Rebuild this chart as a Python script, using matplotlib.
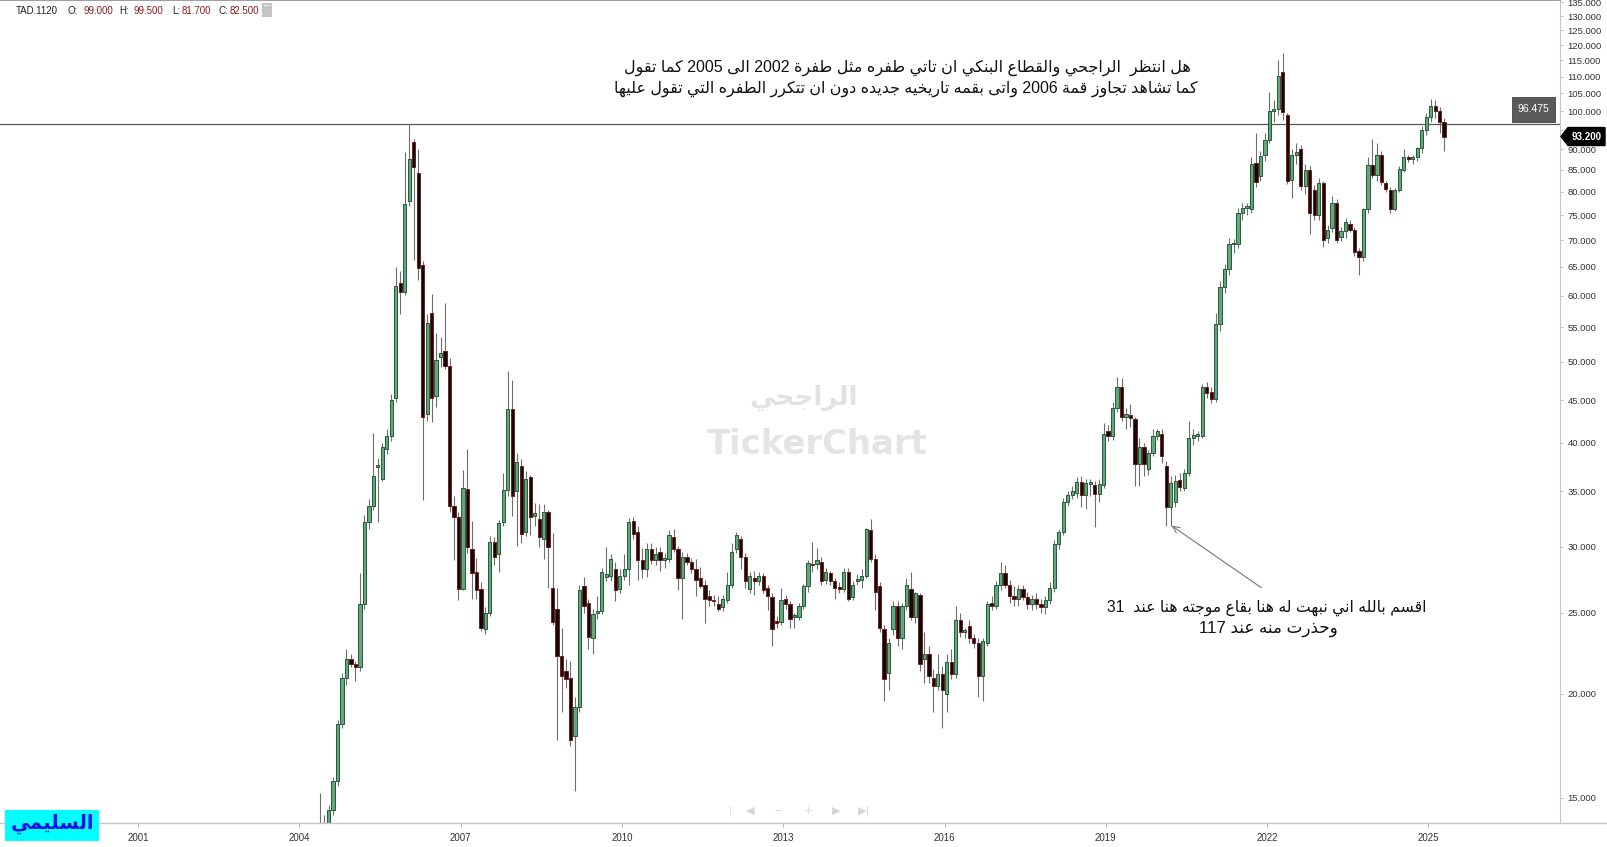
import numpy as np
import pandas as pd
import matplotlib
matplotlib.use("Agg")
import matplotlib.pyplot as plt
import matplotlib.patches as patches
from matplotlib.lines import Line2D
from matplotlib.ticker import FixedLocator, FixedFormatter, NullLocator

# ---------------- data: monthly candles of 1120 (Al Rajhi), May 2004 .. Apr 2025
start_month = "2004-05"
opens = [
    13.0, 13.6, 14.0, 14.5, 15.7, 18.4, 20.9, 22.0,
    21.7, 21.5, 25.6, 32.1, 33.6, 37.4, 36.2, 39.3, 40.7, 45.3, 62.1, 60.7,
    77.9, 91.8, 84.3, 65.3, 43.3, 57.2, 45.5, 50.7, 51.6, 49.5, 33.6, 32.6,
    26.7, 35.2, 29.8, 28.0, 26.7, 23.9, 25.0, 30.4, 29.4, 32.1, 35.1, 43.9,
    35.0, 37.5, 31.3, 36.4, 32.7, 32.4, 30.7, 33.0, 26.8, 25.3, 22.2, 21.3,
    20.9, 17.8, 19.3, 26.9, 25.7, 23.3, 25.0, 25.1, 27.6, 27.7, 28.2, 26.7,
    27.7, 28.2, 32.2, 31.3, 28.9, 28.2, 29.8, 28.9, 29.6, 28.9, 29.0, 30.8,
    29.8, 27.5, 29.2, 28.8, 28.2, 27.5, 27.0, 26.2, 25.9, 25.6, 25.4, 25.9,
    27.0, 29.8, 30.7, 29.2, 26.7, 27.5, 27.3, 27.7, 26.8, 26.1, 24.4, 24.4,
    26.0, 25.6, 24.7, 24.7, 25.5, 26.9, 28.6, 28.6, 28.8, 27.4, 27.9, 27.3,
    26.8, 26.7, 28.0, 26.1, 27.3, 27.4, 27.7, 31.4, 29.0, 26.9, 23.9, 21.2,
    23.9, 25.5, 23.3, 25.5, 26.7, 24.7, 26.3, 22.0, 22.3, 20.9, 20.4, 21.1,
    20.0, 21.8, 21.1, 24.5, 23.7, 24.1, 23.3, 23.0, 21.0, 23.0, 25.7, 25.5,
    27.0, 27.9, 27.0, 26.2, 26.0, 26.7, 26.1, 25.6, 26.0, 25.6, 25.4, 25.9,
    26.8, 30.2, 31.3, 34.0, 34.6, 34.8, 35.9, 34.6, 35.7, 35.6, 34.7, 35.6,
    41.3, 40.7, 44.0, 46.7, 43.0, 43.2, 42.7, 37.7, 39.5, 37.2, 38.9, 40.7,
    41.0, 37.5, 33.5, 34.0, 36.1, 35.3, 36.8, 40.5, 40.7, 40.8, 46.6, 46.0,
    45.1, 55.6, 61.5, 64.6, 69.2, 69.2, 75.4, 76.5, 76.2, 86.6, 83.6, 88.6,
    92.4, 100.0, 100.6, 111.5, 99.0, 82.6, 88.6, 90.0, 81.3, 85.0, 80.3, 75.1,
    81.9, 70.4, 72.3, 77.5, 70.7, 71.7, 73.1, 72.0, 67.9, 66.8, 76.2, 86.1,
    83.7, 88.6, 81.9, 80.3, 76.3, 80.4, 85.0, 88.0, 87.5, 88.0, 90.2, 95.0,
    98.5, 101.5, 100.0, 97.0,
]
highs = [
    15.2, 14.3, 14.7, 15.9, 18.6, 21.2, 22.6, 22.3,
    21.9, 27.9, 32.8, 34.2, 41.1, 38.3, 40.0, 41.5, 45.8, 65.0, 64.3, 89.2,
    96.5, 92.5, 90.0, 66.0, 57.1, 60.3, 54.1, 53.5, 58.8, 50.5, 34.5, 33.0,
    37.1, 39.3, 32.2, 29.1, 27.2, 25.4, 30.9, 30.8, 32.3, 36.8, 48.7, 47.6,
    38.9, 38.2, 37.0, 36.6, 33.9, 33.8, 33.8, 33.2, 31.2, 26.8, 24.0, 22.0,
    21.9, 19.8, 27.0, 27.6, 26.0, 25.3, 26.2, 28.3, 30.0, 29.4, 28.8, 28.2,
    29.4, 32.5, 32.6, 31.8, 29.9, 30.3, 30.3, 30.0, 30.0, 29.5, 31.4, 31.5,
    30.1, 29.6, 29.5, 29.1, 29.0, 28.4, 27.4, 26.6, 26.3, 26.2, 26.3, 28.0,
    30.3, 31.3, 30.9, 29.5, 28.0, 28.1, 28.0, 27.9, 27.0, 26.4, 24.8, 26.8,
    26.3, 25.8, 25.0, 25.7, 27.1, 28.9, 30.4, 29.9, 29.2, 28.3, 28.1, 27.5,
    27.2, 28.3, 28.3, 27.3, 27.8, 28.2, 31.6, 32.4, 29.4, 27.2, 24.2, 23.3,
    25.8, 25.8, 25.7, 27.5, 28.0, 26.5, 26.4, 23.7, 22.8, 21.4, 22.3, 21.6,
    22.3, 22.6, 25.5, 25.0, 24.0, 24.5, 23.6, 23.3, 23.3, 25.8, 26.2, 27.3,
    28.8, 28.5, 27.4, 26.9, 27.0, 27.0, 26.5, 26.3, 26.4, 26.0, 26.2, 27.2,
    30.6, 31.5, 34.3, 35.0, 35.5, 36.4, 36.5, 36.2, 36.2, 36.0, 36.2, 42.2,
    42.0, 44.8, 48.0, 47.8, 44.0, 44.5, 43.0, 40.5, 40.0, 39.2, 41.5, 41.5,
    41.5, 38.0, 36.5, 36.6, 36.8, 37.2, 42.5, 41.5, 41.3, 47.0, 47.3, 46.6,
    57.2, 62.5, 65.5, 70.5, 70.2, 76.5, 77.5, 77.5, 88.0, 94.1, 89.5, 94.2,
    105.4, 103.0, 115.3, 117.3, 99.5, 90.0, 91.5, 91.0, 86.5, 86.0, 81.5, 83.0,
    82.5, 73.0, 79.0, 78.5, 72.5, 74.5, 74.0, 72.5, 68.5, 76.5, 88.0, 92.5,
    91.5, 89.5, 82.5, 81.0, 80.8, 85.8, 90.0, 88.5, 88.5, 90.5, 96.0, 99.5,
    103.5, 103.0, 101.0, 98.0,
]
lows = [
    12.5, 13.3, 13.9, 14.3, 15.5, 18.2, 20.5, 21.5,
    20.7, 21.3, 25.3, 31.5, 33.2, 32.1, 36.0, 38.8, 40.2, 44.8, 57.1, 60.2,
    77.0, 66.3, 62.7, 34.1, 42.5, 42.3, 44.1, 49.3, 49.0, 33.0, 28.9, 25.9,
    26.6, 29.5, 26.0, 26.0, 23.8, 23.6, 24.8, 28.5, 28.0, 31.8, 34.5, 32.7,
    30.1, 30.3, 30.9, 31.0, 31.8, 30.0, 29.0, 26.8, 24.2, 17.6, 19.0, 20.3,
    17.3, 15.3, 19.0, 25.0, 22.6, 22.3, 24.6, 24.9, 27.3, 27.3, 25.8, 26.4,
    27.4, 27.0, 30.7, 27.4, 27.5, 27.6, 28.6, 28.5, 28.1, 28.3, 28.8, 29.6,
    26.6, 24.6, 28.5, 27.9, 26.2, 26.8, 24.3, 25.5, 25.5, 25.1, 25.1, 25.7,
    26.8, 29.5, 28.2, 26.8, 26.4, 26.3, 27.0, 26.4, 25.2, 22.8, 24.0, 24.2,
    25.3, 24.0, 24.0, 24.5, 25.3, 26.5, 28.0, 28.2, 27.0, 27.1, 27.0, 26.0,
    26.4, 26.5, 25.8, 25.9, 27.0, 26.8, 27.5, 28.8, 25.2, 23.7, 19.6, 20.2,
    23.5, 22.8, 22.6, 25.2, 24.5, 24.3, 21.3, 20.6, 20.6, 19.0, 20.2, 18.2,
    19.0, 20.8, 20.9, 23.4, 23.3, 23.0, 22.7, 19.8, 19.6, 22.8, 25.2, 25.3,
    26.6, 26.8, 25.7, 25.5, 25.5, 25.9, 25.3, 25.2, 25.3, 25.0, 24.9, 25.6,
    26.5, 29.8, 31.0, 33.6, 34.2, 34.3, 33.5, 33.3, 34.5, 31.7, 34.0, 35.3,
    40.2, 40.3, 43.6, 42.5, 41.5, 41.8, 35.5, 35.5, 36.5, 36.6, 38.6, 40.3,
    37.8, 31.8, 31.8, 33.5, 35.0, 35.0, 36.5, 39.8, 40.2, 40.5, 45.3, 44.6,
    44.8, 54.5, 60.5, 63.5, 67.5, 68.5, 74.0, 75.0, 75.5, 81.0, 82.5, 87.0,
    91.5, 97.0, 99.0, 97.5, 81.7, 78.6, 86.5, 80.5, 79.5, 71.2, 74.0, 74.0,
    68.6, 69.5, 71.5, 69.5, 69.8, 70.5, 71.5, 67.0, 63.6, 66.0, 75.5, 83.0,
    82.5, 81.5, 80.0, 75.5, 75.8, 80.0, 84.5, 86.8, 86.5, 87.2, 89.0, 93.5,
    97.0, 98.0, 94.0, 89.5,
]
closes = [
    13.6, 14.0, 14.5, 15.7, 18.4, 20.9, 22.0, 21.7,
    21.5, 25.6, 32.1, 33.6, 36.5, 37.5, 39.5, 40.8, 45.0, 61.7, 60.7, 77.4,
    87.6, 85.7, 64.8, 42.9, 55.7, 45.3, 50.3, 51.3, 49.5, 33.6, 32.6, 26.7,
    35.3, 30.0, 27.9, 26.6, 24.0, 25.0, 30.4, 29.2, 32.0, 35.1, 43.9, 34.5,
    37.9, 31.1, 36.2, 32.6, 32.9, 30.8, 33.0, 30.0, 24.4, 22.2, 21.0, 20.8,
    17.6, 19.3, 26.6, 25.5, 23.4, 24.9, 25.1, 28.0, 27.8, 29.0, 26.6, 27.7,
    28.2, 32.1, 31.1, 28.9, 28.2, 29.8, 28.9, 29.4, 28.9, 29.1, 31.0, 29.8,
    27.5, 29.2, 28.8, 28.2, 27.4, 26.9, 26.0, 25.9, 25.8, 25.3, 26.0, 27.0,
    29.6, 31.0, 29.2, 27.3, 27.7, 27.3, 27.7, 26.6, 26.2, 23.9, 24.3, 25.9,
    25.6, 24.6, 24.7, 25.5, 26.9, 28.7, 28.5, 28.9, 27.3, 28.0, 27.3, 26.8,
    26.7, 28.0, 26.0, 27.0, 27.4, 27.7, 31.5, 29.0, 26.5, 24.0, 20.8, 23.0,
    25.5, 23.3, 25.5, 27.0, 24.7, 26.4, 21.7, 22.3, 21.0, 20.4, 21.1, 20.2,
    21.8, 21.1, 24.5, 23.7, 23.8, 23.3, 23.0, 21.0, 23.1, 25.6, 25.5, 27.0,
    27.9, 27.0, 26.2, 26.0, 26.7, 26.1, 25.6, 26.0, 25.6, 25.4, 25.9, 26.8,
    30.2, 31.3, 34.0, 34.6, 35.0, 35.9, 34.6, 35.8, 35.8, 34.7, 35.7, 41.0,
    40.7, 44.0, 46.7, 43.0, 43.3, 42.8, 37.7, 39.5, 37.7, 38.9, 40.7, 41.3,
    38.6, 33.5, 35.8, 36.0, 35.4, 36.8, 40.5, 40.9, 41.0, 46.6, 45.9, 45.1,
    55.6, 61.5, 64.6, 69.2, 69.4, 75.4, 76.5, 76.7, 86.5, 82.3, 88.2, 92.3,
    100.0, 100.6, 110.1, 99.6, 82.5, 88.6, 89.3, 81.3, 85.0, 75.4, 75.1, 81.9,
    70.0, 72.0, 77.5, 70.1, 71.7, 73.6, 72.0, 67.8, 66.8, 76.2, 86.1, 83.7,
    88.6, 82.3, 80.6, 76.3, 80.4, 85.3, 88.0, 87.5, 88.0, 90.2, 95.0, 98.5,
    101.5, 100.0, 97.0, 93.2,
]

year_labels = [2001, 2004, 2007, 2010, 2013, 2016, 2019, 2022, 2025]
price_ticks = list(range(15, 136, 5))
ref_level = 96.475
last_price = 93.2
header_vals = [99.0, 99.5, 81.7, 82.5]

note_top = [
    "هل انتظر  الراجحي والقطاع البنكي ان تاتي طفره مثل طفرة 2002 الى 2005 كما تقول",
    "كما تشاهد تجاوز قمة 2006 واتى بقمه تاريخيه جديده دون ان تتكرر الطفره التي تقول عليها",
]
note_low = [
    "اقسم بالله اني نبهت له هنا بقاع موجته هنا عند  31",
    "وحذرت منه عند 117",
]
wm_ar = "الراجحي"
signature = "السليمي"

# ---------------- minimal arabic shaping (matplotlib has no bidi/shaping)
AR_LETTERS = "ءآأؤإئابةتثجحخدذرزسشصضطظعغفقكلمنهوىي"
AR_NFORMS = [1, 2, 2, 2, 2, 4, 2, 4, 2, 4, 4, 4, 4, 4, 2, 2, 2, 2,
             4, 4, 4, 4, 4, 4, 4, 4, 4, 4, 4, 4, 4, 4, 4, 2, 2, 4]
FORMS = {}
code = 0xFE80
for ch, n in zip(AR_LETTERS, AR_NFORMS):
    FORMS[ch] = [chr(code + i) for i in range(n)]
    code += n
LAM_ALEF = {"آ": 0xFEF5, "أ": 0xFEF7, "إ": 0xFEF9, "ا": 0xFEFB}


def dual(ch):
    return ch in FORMS and len(FORMS[ch]) == 4


def shape_word(w):
    out = []
    prev_j = False
    i = 0
    while i < len(w):
        ch = w[i]
        if ch not in FORMS:
            out.append(ch)
            prev_j = False
            i += 1
            continue
        if ch == "ل" and i + 1 < len(w) and w[i + 1] in LAM_ALEF:
            out.append(chr(LAM_ALEF[w[i + 1]] + (1 if prev_j else 0)))
            prev_j = False
            i += 2
            continue
        nxt = w[i + 1] if i + 1 < len(w) else None
        f = FORMS[ch]
        can_next = dual(ch) and nxt in FORMS
        if prev_j and can_next:
            g = f[3]
        elif prev_j:
            g = f[1] if len(f) > 1 else f[0]
        elif can_next:
            g = f[2]
        else:
            g = f[0]
        out.append(g)
        prev_j = dual(ch)
        i += 1
    return "".join(reversed(out))


def visual(line):
    # right-to-left line: words shaped, then laid out from the right
    toks = [shape_word(t) if any(c in FORMS for c in t) else t for t in line.split(" ")]
    return " ".join(toks[::-1])


# ---------------- figure
W, H = 1607, 847
fig = plt.figure(figsize=(W / 100, H / 100), dpi=100)
fig.patch.set_facecolor("white")
ax = fig.add_axes([0, 24 / H, 1560 / W, 823 / H])

months = pd.period_range(start_month, periods=len(closes), freq="M")
xm = np.asarray((months.year - 2004) * 12 + months.month - 1, dtype=float)
o = np.array(opens); h = np.array(highs); l = np.array(lows); c = np.array(closes)
up = c >= o
lo_b = np.minimum(o, c)
hi_b = np.maximum(o, c)
hi_b = np.maximum(hi_b, lo_b * 1.005)

ax.vlines(xm, l, h, colors="#6e6e6e", linewidth=0.8, zorder=2)
ax.bar(xm, hi_b - lo_b, bottom=lo_b, width=0.72,
       color=np.where(up, "#62a87b", "#0b0b0b"),
       edgecolor=np.where(up, "#245a3a", "#7a1a1a"),
       linewidth=0.7, zorder=3)

ax.axhline(ref_level, color="#555555", linewidth=0.9, zorder=1)

ax.set_yscale("log")
ax.set_ylim(13.99, 135.9)
ax.set_xlim(-67.34, 280.87)

ax.yaxis.tick_right()
ax.yaxis.set_major_locator(FixedLocator(price_ticks))
ax.yaxis.set_major_formatter(FixedFormatter(["%.3f" % v for v in price_ticks]))
ax.yaxis.set_minor_locator(NullLocator())
ax.set_xticks([12 * (y - 2004) - 0.5 for y in year_labels])
ax.set_xticklabels([str(y) for y in year_labels])
ax.tick_params(axis="y", direction="out", length=2.5, width=0.6, color="#b0b0b0",
               labelsize=6.8, labelcolor="#333333", pad=3)
ax.tick_params(axis="x", direction="out", length=3, width=0.6, color="#b0b0b0",
               labelsize=7, labelcolor="#333333", pad=4)
for lab in ax.get_xticklabels() + ax.get_yticklabels():
    lab.set_family("Liberation Sans")

ax.spines["left"].set_visible(False)
ax.spines["bottom"].set_visible(False)
ax.spines["right"].set_color("#c6c6c6")
ax.spines["top"].set_color("#8c8c8c")
ax.spines["top"].set_linewidth(1.2)
fig.add_artist(Line2D([0, 1], [24 / H, 24 / H], color="#c6c6c6", linewidth=1.0))


def fxy(x, y):
    return x / W, 1 - y / H


AR_FAM = ["Liberation Sans", "DejaVu Sans"]
renderer = fig.canvas.get_renderer()


def fit(t, target):
    bb = t.get_window_extent(renderer)
    t.set_fontsize(t.get_fontsize() * target / bb.width)


# watermark
wm1 = fig.text(*fxy(804, 398), visual(wm_ar), ha="center", va="center", fontsize=20,
               family="DejaVu Sans", weight="bold", color="#e2e2e2", zorder=0)
fit(wm1, 108)
wm2 = fig.text(*fxy(817, 444), "TickerChart", ha="center", va="center", fontsize=24,
               family="DejaVu Sans", weight="bold", color="#e4e4e4", zorder=0)
fit(wm2, 221)
ix, iy = fxy(680, 457)
fig.add_artist(patches.Rectangle((ix, iy), 24 / W, 24 / H, facecolor="#fcf2d2",
                                 edgecolor="#e9dcb0", linewidth=1.0, zorder=0))
fig.add_artist(Line2D([x / W for x in (683, 688, 691, 695, 698, 702)],
                      [1 - y / H for y in (452, 446, 448, 440, 442, 435)],
                      color="#dccb92", linewidth=1.0, zorder=0))

# annotations
t1 = fig.text(*fxy(907, 68), visual(note_top[0]), ha="center", va="center",
              fontsize=12.5, family=AR_FAM, color="#111111")
fit(t1, 568)
t2 = fig.text(*fxy(906, 89), visual(note_top[1]), ha="center", va="center",
              fontsize=12.5, family=AR_FAM, color="#111111")
fit(t2, 586)
b1 = fig.text(*fxy(1267, 608), visual(note_low[0]), ha="center", va="center",
              fontsize=12.5, family=AR_FAM, color="#111111")
fit(b1, 320)
b2 = fig.text(*fxy(1268, 629), visual(note_low[1]), ha="center", va="center",
              fontsize=12.5, family=AR_FAM, color="#111111")
fit(b2, 139)

ax.annotate("", xy=(194.2, 31.8), xytext=(214.2, 26.8),
            arrowprops=dict(arrowstyle="->", color="#777777", lw=0.8,
                            shrinkA=0, shrinkB=0, mutation_scale=12))

# header
hx = [(16, "TAD.1120", "#222222"), (68, "O:", "#222222"), (83, "%.3f" % header_vals[0], "#8b1c1c"),
      (119, "H:", "#222222"), (133, "%.3f" % header_vals[1], "#8b1c1c"),
      (172, "L:", "#222222"), (182, "%.3f" % header_vals[2], "#8b1c1c"),
      (219, "C:", "#222222"), (230, "%.3f" % header_vals[3], "#8b1c1c")]
for x, s, col in hx:
    fig.text(*fxy(x, 11.5), s, ha="left", va="center", fontsize=7,
             family="Liberation Sans", color=col)
bx, by = fxy(262, 17)
fig.add_artist(patches.Rectangle((bx, by), 10 / W, 14 / H, facecolor="#c4c4c4",
                                 edgecolor="none"))
fig.text(*fxy(267, 7), "···", ha="center", va="center", fontsize=6, color="white",
         weight="bold")

# reference level box
rx, ry = fxy(1512, 122)
fig.add_artist(patches.Rectangle((rx, ry), 43 / W, 25 / H, facecolor="#5a5a5a",
                                 edgecolor="#444444", linewidth=0.6))
fig.text(*fxy(1533.5, 109.5), "%.3f" % ref_level, ha="center", va="center",
         fontsize=7.5, family="Liberation Sans", color="white")

# last price marker (covers the 95.000 label like in the terminal)
yc = H - ax.transData.transform((0, last_price))[1]
poly = [(1561, yc), (1568, yc - 9), (1605, yc - 9), (1605, yc + 9), (1568, yc + 9)]
fig.add_artist(patches.Polygon([fxy(x, y) for x, y in poly], closed=True,
                               facecolor="black", edgecolor="black", zorder=5))
fig.text(*fxy(1587, yc), "%.3f" % last_price, ha="center", va="center", fontsize=7,
         family="Liberation Sans", color="white", weight="bold", zorder=6)

# navigation glyphs
for x, s in [(730, "|"), (750, "◀"), (779, "−"), (808, "+"), (836, "▶"), (864, "▶|")]:
    fig.text(*fxy(x, 811), s, ha="center", va="center", fontsize=8,
             family="DejaVu Sans", color="#d6d6d6")

# signature box
sx, sy = fxy(5, 841)
fig.add_artist(patches.Rectangle((sx, sy), 94 / W, 31 / H, facecolor="#00ffff",
                                 edgecolor="none", zorder=5))
sg = fig.text(*fxy(52, 824), visual(signature), ha="center", va="center", fontsize=14,
              family="DejaVu Sans", weight="bold", color="#1010ee", zorder=6)
fit(sg, 84)

fig.savefig("out.png", dpi=100, facecolor="white")
